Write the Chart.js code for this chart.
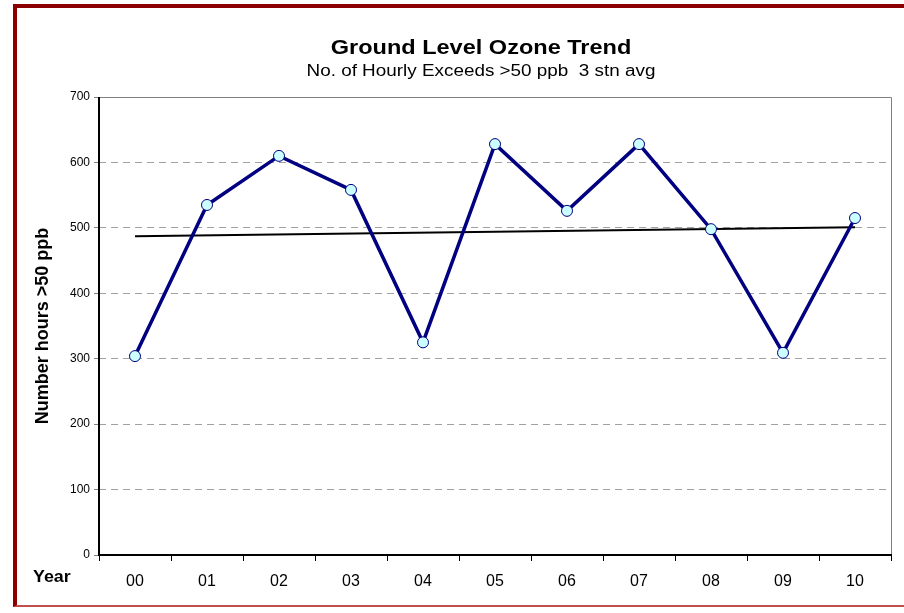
<!DOCTYPE html>
<html>
<head>
<meta charset="utf-8">
<script src="https://cdn.jsdelivr.net/npm/chart.js@4"></script>
<style>
  html, body { margin: 0; padding: 0; background: #fff; }
  #wrap { position: relative; width: 904px; height: 613px; overflow: hidden; font-family: Arial, "Liberation Sans", sans-serif; }
  #frame { position: absolute; left: 13px; top: 4px; width: 900px; height: 603px;
           border-top: 4px solid #8b0000; border-left: 4px solid #8b0000; border-bottom: 2px solid #c0504d; box-sizing: border-box; }
  #title { position: absolute; top: 35px; left: 231px; width: 500px; text-align: center; font-weight: bold; font-size: 21px; line-height: 24px; transform: scaleX(1.12); }
  #subtitle { position: absolute; top: 62px; left: 231px; width: 500px; text-align: center; font-size: 16px; line-height: 18px; transform: scaleX(1.18); white-space: pre; }
  #year { position: absolute; top: 567px; left: 33px; font-weight: bold; font-size: 17px; line-height: 20px; transform: scaleX(1.05); transform-origin: left center; }
  canvas { position: absolute; left: 0; top: 0; }
</style>
</head>
<body>
<div id="wrap">
  <div id="frame"></div>
  <canvas id="ozoneChart" width="904" height="613"></canvas>
  <div id="title">Ground Level Ozone Trend</div>
  <div id="subtitle">No. of Hourly Exceeds &gt;50 ppb  3 stn avg</div>
  <div id="year">Year</div>
</div>
<script>
document.addEventListener("DOMContentLoaded", () => {

  // ===== DATA =====
  const years = ["00", "01", "02", "03", "04", "05", "06", "07", "08", "09", "10"];
  const hours = [304, 535, 610, 558, 325, 628, 526, 628, 498, 309, 515];
  // trend line at first and last year
  const trend = [487, null, null, null, null, null, null, null, null, null, 501];

  // plot frame: gray box, black left + bottom axis
  const frame = {
    id: "frame",
    beforeDatasetsDraw(chart) {
      const { ctx, chartArea: a } = chart;
      ctx.save();
      ctx.strokeStyle = "#808080";
      ctx.lineWidth = 1;
      ctx.beginPath();
      ctx.moveTo(a.left, a.top + 0.5);
      ctx.lineTo(a.right + 0.5, a.top + 0.5);
      ctx.lineTo(a.right + 0.5, a.bottom);
      ctx.stroke();
      ctx.strokeStyle = "#000";
      ctx.lineWidth = 2;
      ctx.beginPath();
      ctx.moveTo(a.left, a.top);
      ctx.lineTo(a.left, a.bottom);
      ctx.lineTo(a.right + 1, a.bottom);
      ctx.stroke();
      ctx.restore();
    }
  };

  new Chart(document.getElementById("ozoneChart"), {
    type: "line",
    data: {
      labels: years,
      datasets: [{
        data: hours,
        borderColor: "#000080",
        borderWidth: 3.5,
        pointRadius: 5.5,
        pointBackgroundColor: "#ccffff",
        pointBorderColor: "#000080",
        pointBorderWidth: 1,
        tension: 0,
        order: 1
      }, {
        data: trend,
        spanGaps: true,
        borderColor: "#000",
        borderWidth: 2,
        pointRadius: 0,
        order: 2
      }]
    },
    options: {
      responsive: false,
      animation: false,
      events: [],
      layout: { padding: { left: 30, right: 13, top: 97, bottom: 10 } },
      plugins: {
        legend: { display: false },
        tooltip: { enabled: false }
      },
      scales: {
        x: {
          offset: true,
          grid: {
            offset: true,
            drawOnChartArea: false,
            drawTicks: true,
            tickLength: 6,
            tickColor: "#000"
          },
          border: { display: false },
          ticks: { color: "#000", padding: 11, font: { family: "Arial", size: 16 } },
          afterFit(scale) { scale.height = 48; }
        },
        y: {
          min: 0,
          max: 700,
          ticks: { stepSize: 100, color: "#000", padding: 4, font: { family: "Arial", size: 12 } },
          grid: {
            color: "#a0a0a0",
            tickLength: 5,
            tickColor: "#808080",
            tickBorderDash: []
          },
          border: { display: false, dash: [7, 5] },
          title: {
            display: true,
            text: "Number hours >50 ppb",
            color: "#000",
            padding: { top: 2, bottom: 4 },
            font: { family: "Arial", size: 18, weight: "bold" }
          },
          afterFit(scale) { scale.width = 69; }
        }
      }
    },
    plugins: [frame]
  });

});
</script>
</body>
</html>
